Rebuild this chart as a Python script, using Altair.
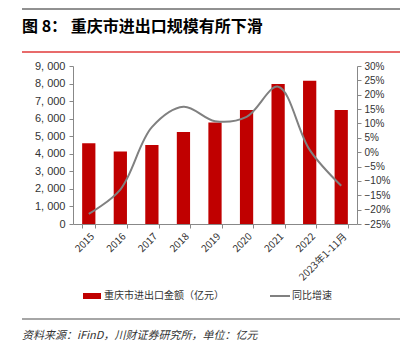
import altair as alt
import pandas as pd

years = ["2015", "2016", "2017", "2018", "2019", "2020", "2021", "2022", "2023年1-11月"]
amount = [4600, 4130, 4500, 5240, 5780, 6490, 7980, 8160, 6490]
growth = [-21.5, -13.0, 8.7, 15.8, 10.8, 12.3, 22.8, 0.8, -11.7]

title_text = "图 8：  重庆市进出口规模有所下滑"
legend_bar = "重庆市进出口金额（亿元）"
legend_line = "同比增速"
source_text = "资料来源：iFinD，川财证券研究所，单位：亿元"

df = pd.DataFrame({"year": years, "amount": amount, "growth": growth})

W, H = 284, 158
LAT = "Liberation Sans"
CJK = "Noto Sans CJK SC"

xenc = alt.X("year:N", sort=years, title=None,
             scale=alt.Scale(paddingInner=0.58, paddingOuter=0.29),
             axis=alt.Axis(labelAngle=-45, labelFontSize=10, labelFont=CJK, labelColor="#333",
                           domainColor="#888", tickColor="#888", tickBand="extent",
                           tickSize=4, labelPadding=3, grid=False))

bars = alt.Chart(df).mark_bar(color="#C00000").encode(
    x=xenc,
    y=alt.Y("amount:Q", title=None,
            scale=alt.Scale(domain=[0, 9000], nice=False),
            axis=alt.Axis(values=list(range(0, 9001, 1000)), grid=False,
                          labelExpr="replace(format(datum.value, ','), ',', ', ')",
                          labelFont=LAT, labelFontSize=11, labelColor="#333",
                          domainColor="#888", tickColor="#888", tickSize=4, labelPadding=4)),
)

line = alt.Chart(df).mark_line(color="#808080", strokeWidth=2, interpolate="catmull-rom").encode(
    x=alt.X("year:N", sort=years),
    y=alt.Y("growth:Q", title=None,
            scale=alt.Scale(domain=[-25, 30], nice=False),
            axis=alt.Axis(orient="right", values=list(range(-25, 31, 5)), grid=False,
                          labelExpr="(datum.value < 0 ? '−' + abs(datum.value) : datum.value) + '%'",
                          labelFont=LAT, labelFontSize=10, labelColor="#333",
                          domainColor="#888", tickColor="#888", tickSize=4, labelPadding=3)),
)

one = alt.Data(values=[{}])

def rule(x1, x2, y, color, w):
    return alt.Chart(one).mark_rule(color=color, strokeWidth=w).encode(
        x=alt.value(x1), x2=alt.value(x2), y=alt.value(y))

def text(x, y, t, size, color, font, weight="normal", style="normal"):
    return alt.Chart(one).mark_text(text=t, fontSize=size, color=color, font=font,
                                    fontWeight=weight, fontStyle=style,
                                    align="left", baseline="middle").encode(
        x=alt.value(x), y=alt.value(y))

deco = [
    rule(-51, 327, -57, "#222", 1),
    text(-51, -39, title_text, 16, "#000", CJK, weight="bold"),
    rule(-51, 327, -14, "#e03a3a", 1.5),
    alt.Chart(one).mark_rect(color="#C00000").encode(
        x=alt.value(10), x2=alt.value(28), y=alt.value(227), y2=alt.value(233)),
    text(31, 230, legend_bar, 10, "#333", CJK),
    rule(197, 217, 230, "#808080", 2),
    text(219, 230, legend_line, 10, "#333", CJK),
    rule(-51, 327, 253, "#888", 1.5),
    text(-51, 270, source_text, 11, "#333", CJK, style="italic"),
]

chart = alt.layer(bars, line, *deco).resolve_scale(y="independent").properties(
    width=W, height=H,
    autosize=alt.AutoSizeParams(type="none"),
    padding={"left": 65, "top": 58, "right": 43, "bottom": 129},
).configure_view(stroke=None)

chart.save("out.html", embed_options={"renderer": "svg", "actions": False})
